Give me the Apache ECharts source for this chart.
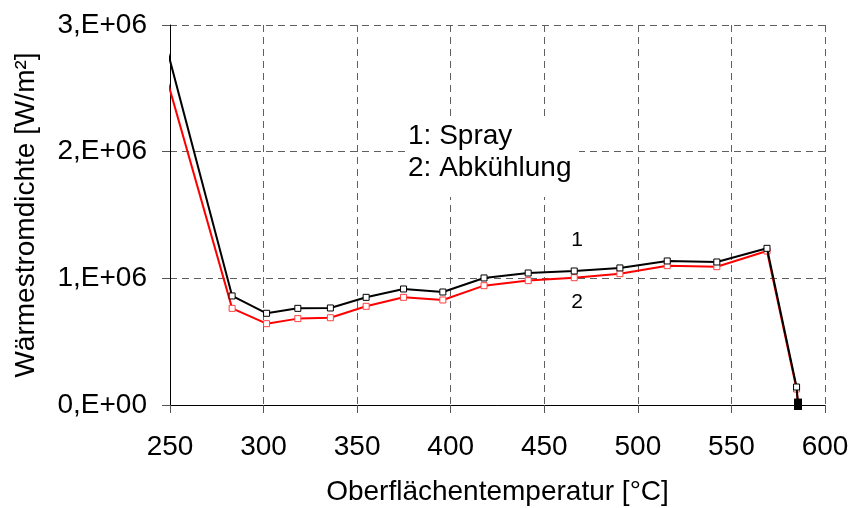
<!DOCTYPE html>
<html><head><meta charset="utf-8">
<script src="https://cdn.jsdelivr.net/npm/echarts@6/dist/echarts.min.js"></script>
<style>html,body{margin:0;padding:0;background:#fff}#c{width:853px;height:508px}</style>
</head><body><div id="c"></div>
<script>
var temps = [248.2, 283.2, 301.6, 318.3, 335.7, 354.8, 374.8, 395.8, 417.8, 441.4, 466.0, 490.4, 515.7, 542.2, 569.0, 584.8, 585.6];
var spray = [2.82e6, 0.861e6, 0.724e6, 0.763e6, 0.766e6, 0.850e6, 0.916e6, 0.892e6, 1.003e6, 1.042e6, 1.058e6, 1.082e6, 1.137e6, 1.129e6, 1.237e6, 0.142e6, 0.005e6];
var abkuehlung = [2.58e6, 0.763e6, 0.642e6, 0.682e6, 0.689e6, 0.779e6, 0.850e6, 0.829e6, 0.942e6, 0.982e6, 1.005e6, 1.037e6, 1.100e6, 1.092e6, 1.216e6, 0.126e6, 0.005e6];
var xTicks = [250, 300, 350, 400, 450, 500, 550, 600];
var yTicks = [0, 1e6, 2e6, 3e6];
var legendLines = ['1: Spray', '2: Abkühlung'];
var curveLabels = ['1', '2'];

function pts(vals) {
  return temps.map(function (t, i) {
    var d = {value: [t, vals[i]]};
    if (i === 0) d.symbol = 'none';
    if (i === temps.length - 1) { d.symbolSize = [7, 10]; d.itemStyle = {color: '#000', borderColor: '#000'}; }
    return d;
  });
}
var FONT = '"Liberation Sans", Arial, sans-serif';
var GRID = {color: '#606060', type: [7, 5], width: 1};
var chart = echarts.init(document.getElementById('c'));
chart.setOption({
  animation: false,
  backgroundColor: '#fff',
  grid: {left: 170, right: 28, top: 25, bottom: 103, outerBoundsMode: 'none', containLabel: false},
  xAxis: {
    type: 'value', min: xTicks[0], max: xTicks[xTicks.length - 1], interval: 50,
    name: 'Oberflächentemperatur [°C]', nameLocation: 'middle', nameGap: 73,
    nameTextStyle: {fontFamily: FONT, fontSize: 28, color: '#000'},
    axisLine: {show: true, onZero: false, lineStyle: {color: '#000', width: 1}},
    axisTick: {show: true, length: 8, lineStyle: {color: '#555'}},
    axisLabel: {fontFamily: FONT, fontSize: 28, color: '#000', margin: 28},
    splitLine: {show: true, lineStyle: GRID}
  },
  yAxis: {
    type: 'value', min: yTicks[0], max: yTicks[yTicks.length - 1], interval: 1e6,
    name: 'Wärmestromdichte [W/m²]', nameLocation: 'middle', nameGap: 130,
    nameTextStyle: {fontFamily: FONT, fontSize: 28, color: '#000'},
    axisLine: {show: true, lineStyle: {color: '#000', width: 1}},
    axisTick: {show: true, length: 8, lineStyle: {color: '#555'}},
    axisLabel: {fontFamily: FONT, fontSize: 28, color: '#000', margin: 23,
      formatter: function (v) { return v === 0 ? '0,E+00' : (v / 1e6) + ',E+06'; }},
    splitLine: {show: true, lineStyle: GRID}
  },
  series: [
    {type: 'line', name: 'Abkühlung', data: pts(abkuehlung), clip: false, z: 3,
      symbol: 'rect', symbolSize: 6, showAllSymbol: true,
      lineStyle: {color: '#ff0000', width: 2},
      itemStyle: {color: '#fff', borderColor: '#ff4040', borderWidth: 1}},
    {type: 'line', name: 'Spray', data: pts(spray), clip: false, z: 4,
      symbol: 'rect', symbolSize: 6, showAllSymbol: true,
      lineStyle: {color: '#000', width: 2},
      itemStyle: {color: '#fff', borderColor: '#000', borderWidth: 1}}
  ],
  graphic: [
    {type: 'rect', shape: {x: 405, y: 118, width: 174, height: 79}, style: {fill: '#fff'}, z: 10},
    {type: 'text', x: 408, y: 136, z: 11, style: {text: legendLines[0], font: '28px ' + FONT, fill: '#000', verticalAlign: 'middle'}},
    {type: 'text', x: 408, y: 168, z: 11, style: {text: legendLines[1], font: '28px ' + FONT, fill: '#000', verticalAlign: 'middle'}},
    {type: 'text', x: 577, y: 240, z: 11, style: {text: curveLabels[0], font: '21px ' + FONT, fill: '#000', align: 'center', verticalAlign: 'middle'}},
    {type: 'text', x: 577, y: 302, z: 11, style: {text: curveLabels[1], font: '21px ' + FONT, fill: '#000', align: 'center', verticalAlign: 'middle'}}
  ]
});
</script></body></html>
